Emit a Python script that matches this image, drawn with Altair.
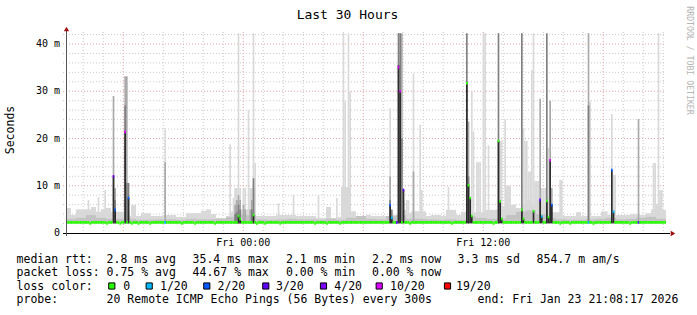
import altair as alt
import pandas as pd

# ---------------- data ----------------
TITLE = "Last 30 Hours"
START_CLOCK_H = 15 + 8 / 60 + 17 / 3600      # Thu 15:08:17
SPAN_H = 30
STEPS_PER_H = 12                              # 300 s steps
N_STEPS = 360
Y_MAX = 42.54                                 # ms at the top of the plot

# light smoke top, per 15-minute bin (ms)
noise_light = [5.3, 3.8, 5.0, 5.0, 5.0, 5.5, 4.5, 5.0, 5.3, 4.5,
               4.5, 4.5, 3.6, 5.9, 3.6, 4.2, 4.2, 3.6, 3.6, 3.6,
               3.8, 3.8, 3.4, 3.4, 4.2, 4.2, 4.2, 4.7, 5.0, 4.0,
               3.2, 3.2, 3.6, 4.5, 5.0, 5.0, 5.0, 4.5, 3.6, 3.6,
               3.6, 3.6, 3.8, 3.8, 3.8, 3.8, 3.6, 3.6, 3.6, 3.6,
               3.2, 3.2, 5.5, 3.2, 3.4, 9.7, 9.7, 4.6, 3.6, 3.6,
               3.8, 3.6, 3.6, 3.6, 3.6, 3.8, 3.8, 4.9, 4.2, 4.6,
               4.6, 4.6, 3.6, 3.8, 3.8, 3.6, 4.9, 4.9, 3.8, 4.5,
               4.4, 4.4, 4.4, 4.4, 4.9, 4.9, 5.0, 5.5, 10.0, 6.0,
               5.3, 6.0, 7.0, 6.0, 7.0, 6.0, 5.0, 4.4, 4.4, 3.6,
               3.6, 3.6, 4.4, 3.6, 3.6, 3.6, 3.6, 4.6, 3.8, 5.0,
               3.8, 3.8, 3.8, 4.0, 3.8, 3.8, 4.2, 5.0, 6.2, 4.9]
# denser smoke top, per 30-minute bin (ms)
noise_mid = [3.0, 3.2, 3.8, 3.2, 3.0, 3.0, 3.0, 2.8, 2.8, 2.9,
             2.9, 2.8, 3.0, 2.9, 2.9, 3.0, 3.4, 4.0, 3.8, 2.9,
             2.8, 2.9, 3.0, 2.9, 2.9, 2.8, 3.0, 2.8, 3.2, 3.6,
             3.0, 2.9, 3.6, 3.8, 3.0, 3.0, 2.9, 2.8, 2.9, 2.8,
             3.5, 3.2, 3.0, 3.0, 3.8, 4.5, 4.8, 4.0, 3.2, 2.9,
             2.8, 2.8, 2.9, 3.0, 3.2, 2.9, 3.0, 3.2, 3.4, 3.0]
SMOKE_BASE = 2.05

# smoke spikes, by 5-minute step (ms tops; 0 = none)
spike_step  = [13, 19, 23, 28, 29, 35, 36, 37, 59, 98, 100, 101, 102, 103, 104, 106, 107, 109, 110,
               111, 112, 113, 127, 136, 151, 162, 166, 167, 169, 170, 194, 195, 199, 200, 201, 202,
               204, 205, 208, 212, 213, 229, 240, 241, 242, 243, 244, 246, 247, 248, 250, 251, 253,
               259, 260, 261, 263, 273, 274, 275, 276, 277, 278, 279, 280, 281, 282, 283, 284, 285,
               286, 287, 288, 289, 290, 291, 296, 297, 307, 313, 314, 324, 327, 328, 329, 343, 352,
               353, 355, 356, 357]
spike_light = [7.0, 7.6, 9.1, 0, 0, 0, 0, 0, 22.2, 18.8, 7.4, 9.5, 9.5, 42.3, 9.5, 9.5, 9.5, 26, 9.5,
               9.5, 42.3, 14.8, 6.3, 8, 8, 7.4, 42.3, 27.9, 42.3, 30, 26.4, 0, 0, 0, 0, 0,
               7, 7, 33.8, 22.9, 9.1, 9.8, 0, 0, 0, 30, 21.5, 15, 15, 15, 42.3, 42.3, 18.6,
               0, 19.5, 19.5, 24, 0, 22.2, 19.5, 19.5, 13, 13, 34.5, 42.3, 11, 11, 11, 0, 9.5,
               9.5, 9.5, 0, 18, 0, 0, 11.2, 11.2, 4.4, 0, 27.9, 4.6, 25.2, 12.3, 12.3, 0, 14.8,
               14.8, 42.3, 9.1, 9.1]
spike_mid   = [0, 0, 0, 29, 9.5, 33.2, 33.2, 0, 15, 0, 0, 6, 7, 8, 7, 6, 5, 0, 5,
               7, 9.5, 0, 0, 0, 0, 0, 0, 0, 0, 0, 12, 0, 0, 0, 42.3, 7,
               0, 0, 13, 0, 0, 0, 0, 23.6, 0, 0, 0, 0, 0, 0, 0, 0, 0,
               0, 0, 0, 0, 0, 0, 0, 0, 0, 0, 0, 0, 0, 0, 0, 28.4, 0,
               0, 0, 0, 0, 28, 9.5, 0, 0, 0, 42.3, 0, 0, 0, 0, 0, 24.1, 0,
               0, 0, 0, 0]
spike_dark  = [0, 0, 0, 0, 7, 27, 10.6, 10.6, 0, 0, 0, 4, 4.5, 6, 5, 0, 0, 0, 0,
               5, 11.6, 0, 0, 0, 0, 0, 0, 0, 0, 0, 7, 5, 42.3, 42.3, 20, 0,
               0, 0, 0, 0, 0, 0, 42.3, 12, 0, 0, 0, 0, 0, 0, 0, 0, 0,
               42.3, 0, 0, 0, 42.3, 0, 0, 0, 0, 0, 0, 0, 0, 0, 0, 0, 0,
               0, 0, 42.3, 0, 0, 0, 0, 0, 0, 27, 0, 0, 0, 0, 0, 0, 0,
               0, 0, 0, 0]
spike_black = [0, 0, 0, 12, 5, 21.4, 0, 7.4, 0, 0, 0, 0, 0, 3.6, 3.2, 0, 0, 0, 0,
               0, 3.8, 0, 0, 0, 0, 0, 0, 0, 0, 0, 5.9, 3.2, 35.5, 30, 0, 9.1,
               0, 0, 0, 0, 0, 0, 31.7, 10.1, 7.4, 3.6, 0, 0, 0, 0, 0, 0, 0,
               19.5, 6.7, 3.0, 0, 4.9, 3.0, 0, 0, 0, 0, 0, 4.6, 0, 0, 0, 7.0, 3.5,
               0, 0, 6.8, 3.4, 15.4, 5.9, 0, 0, 0, 0, 0, 0, 13.3, 4.5, 0, 0, 0,
               0, 0, 0, 0]

# median rtt: usual level, small dips, and the steps where it differs
MEDIAN_BASE = 2.25
median_dip_value = 2.0
median_dip_steps = [14, 24, 32, 39, 43, 50, 69, 77, 89, 114, 119, 128, 149, 156, 164, 206,
                    231, 256, 296, 302, 316, 338]
median_step = [28, 29, 35, 37, 59, 103, 104, 112, 194, 195, 198, 199, 200, 202, 240, 241, 242,
               243, 259, 260, 261, 273, 274, 280, 284, 285, 288, 289, 290, 291, 313, 327, 328, 343]
median_val  = [12, 4.9, 21.4, 7.4, 2.25, 3.6, 3.0, 3.8, 5.9, 3.2, 2.25, 35.1, 30, 9.1, 31.7, 10.1, 7.4,
               3.6, 19.5, 6.7, 3.0, 4.9, 3.0, 4.6, 7.0, 3.5, 6.8, 3.4, 15.4, 5.9, 2.25, 13.3, 4.5, 2.25]
median_loss = [4, 2, 5, 2, 1, 0, 0, 0, 2, 1, 3, 5, 5, 3, 0, 0, 0,
               0, 0, 0, 0, 0, 0, 0, 3, 1, 0, 0, 5, 2, 1, 2, 1, 3]

loss_labels = ["0", "1/20", "2/20", "3/20", "4/20", "10/20", "19/20"]
loss_colors = ["#26ff00", "#00b8ff", "#0059ff", "#5e00ff", "#7e00ff", "#dd00ff", "#ff0000"]

y_ticks = [0, 10, 20, 30, 40]
y_tick_labels = ["0\u00a0\u00a0", "10\u00a0m", "20\u00a0m", "30\u00a0m", "40\u00a0m"]
y_minor = [2, 4, 6, 8, 12, 14, 16, 18, 22, 24, 26, 28, 32, 34, 36, 38, 42]

row_rtt = ["median rtt:", "2.8 ms avg", "35.4 ms max", "2.1 ms min", "2.2 ms now", "3.3 ms sd", "854.7 m am/s"]
row_loss = ["packet loss:", "0.75 % avg", "44.67 % max", "0.00 % min", "0.00 % now"]
row_probe = ["probe:", "20 Remote ICMP Echo Pings (56 Bytes) every 300s", "end: Fri Jan 23 21:08:17 2026"]
LOSS_HEAD = "loss color:"
Y_TITLE = "Seconds"
WATERMARK = "RRDTOOL / TOBI OETIKER"

# ---------------- layout / style ----------------
W, H = 600, 201
PAD = {"left": 66, "top": 32, "right": 31, "bottom": 82}
MONO = "DejaVu Sans Mono"
col_x = [-49.4, 40.6, 126.6, 220.0, 306.0, 391.6, 470.6]
probe_x = [-49.4, 40.6, 411.6]
box_x = [45.8, 83.2, 140.8, 199.8, 257.5, 313.2, 381.5]
box_label_x = [57.3, 94.0, 151.6, 210.0, 268.3, 324.0, 390.0]
row_y = [231.0, 244.3, 257.6, 271.0]

xs = alt.Scale(domain=[0, SPAN_H], nice=False, zero=False)
ys = alt.Scale(domain=[0, Y_MAX], nice=False, zero=False)

# ---------------- tables ----------------
def bins(values, width_h):
    return pd.DataFrame({"x": [i * width_h for i in range(len(values))],
                         "x2": [(i + 1) * width_h for i in range(len(values))],
                         "y": SMOKE_BASE, "y2": values})

def spikes(values):
    rows = [{"x": s / STEPS_PER_H, "x2": (s + 1) / STEPS_PER_H, "y": SMOKE_BASE, "y2": v}
            for s, v in zip(spike_step, values) if v > 0]
    return pd.DataFrame(rows)

def rects(df, color):
    return alt.Chart(df).mark_rect(color=color, strokeWidth=0).encode(
        x=alt.X("x:Q", scale=xs, axis=None), x2="x2:Q",
        y=alt.Y("y:Q", scale=ys, axis=None), y2="y2:Q")

med = {s: (MEDIAN_BASE, 0) for s in range(N_STEPS)}
for s in median_dip_steps:
    med[s] = (median_dip_value, 0)
for s, v, c in zip(median_step, median_val, median_loss):
    med[s] = (v, c)
med_df = pd.DataFrame([{"x": s / STEPS_PER_H, "x2": (s + 1) / STEPS_PER_H,
                        "y": v - 0.28, "y2": v + 0.28, "c": loss_colors[c]}
                       for s, (v, c) in med.items()])

hours = [h - START_CLOCK_H for h in range(16, 16 + SPAN_H) if h - START_CLOCK_H < SPAN_H]
clock = [h for h in range(16, 16 + SPAN_H) if h - START_CLOCK_H < SPAN_H]
vminor = pd.DataFrame({"x": [o for o, h in zip(hours, clock) if h % 6 != 0]})
vmajor = pd.DataFrame({"x": [o for o, h in zip(hours, clock) if h % 6 == 0]})
days = ["Thu", "Fri", "Sat"]
xlab = pd.DataFrame({"x": [o for o, h in zip(hours, clock) if h % 12 == 0],
                     "t": [f"{days[h // 24]} {h % 24:02d}:00" for h in clock if h % 12 == 0]})

hminor = pd.DataFrame({"y": y_minor})
hmajor = pd.DataFrame({"y": [t for t in y_ticks if t > 0]})
ylab = pd.DataFrame({"y": y_ticks, "t": y_tick_labels})

GRAY = "#c9c9c9"
RED = "#e3a3a3"
grid = [
    alt.Chart(vminor).mark_rule(color=GRAY, strokeDash=[1, 2], strokeWidth=1).encode(
        x=alt.X("x:Q", scale=xs, axis=None), y=alt.value(0), y2=alt.value(H + 2)),
    alt.Chart(hminor).mark_rule(color=GRAY, strokeDash=[1, 2], strokeWidth=1).encode(
        y=alt.Y("y:Q", scale=ys, axis=None), x=alt.value(-3), x2=alt.value(W)),
    alt.Chart(vmajor).mark_rule(color=RED, strokeDash=[1, 2], strokeWidth=1).encode(
        x=alt.X("x:Q", scale=xs, axis=None), y=alt.value(0), y2=alt.value(H + 3)),
    alt.Chart(hmajor).mark_rule(color=RED, strokeDash=[1, 2], strokeWidth=1).encode(
        y=alt.Y("y:Q", scale=ys, axis=None), x=alt.value(-3), x2=alt.value(W)),
]

smoke = [
    rects(bins(noise_light, 0.25), "#d9d9d9"),
    rects(spikes(spike_light), "#d9d9d9"),
    rects(bins(noise_mid, 0.5), "#c3c3c3"),
    rects(spikes(spike_mid), "#a9a9a9"),
    rects(spikes(spike_dark), "#7f7f7f"),
    rects(spikes(spike_black), "#2c2c2c"),
]

median = alt.Chart(med_df).mark_rect(strokeWidth=0).encode(
    x=alt.X("x:Q", scale=xs, axis=None), x2="x2:Q",
    y=alt.Y("y:Q", scale=ys, axis=None), y2="y2:Q",
    color=alt.Color("c:N", scale=None))

one = pd.DataFrame({"a": [0]})
axes = [
    alt.Chart(one).mark_rule(color="#000000", strokeWidth=1).encode(
        x=alt.value(-3), x2=alt.value(W + 4), y=alt.value(H + 0.5)),
    alt.Chart(one).mark_rule(color="#555555", strokeWidth=1).encode(
        x=alt.value(0.5), y=alt.value(H + 3), y2=alt.value(-2)),
    alt.Chart(one).mark_point(shape="triangle-up", filled=True, color="#a01010", size=28, opacity=1).encode(
        x=alt.value(0.5), y=alt.value(-3)),
    alt.Chart(one).mark_point(shape="triangle-right", filled=True, color="#a01010", size=28, opacity=1).encode(
        x=alt.value(W + 7), y=alt.value(H + 0.5)),
]

def text_row(xs_px, texts, y, size=11.5, align="left", color="#000000"):
    df = pd.DataFrame({"px": xs_px, "t": texts})
    return alt.Chart(df).mark_text(font=MONO, fontSize=size, align=align, baseline="alphabetic",
                                   fill=color).encode(
        x=alt.X("px:Q", scale=None), y=alt.value(y), text="t:N")

labels = [
    alt.Chart(ylab).mark_text(font=MONO, fontSize=10, align="right", baseline="middle",
                              fill="#000000").encode(
        y=alt.Y("y:Q", scale=ys, axis=None), x=alt.value(-6), text="t:N"),
    alt.Chart(xlab).mark_text(font=MONO, fontSize=10, align="center", baseline="alphabetic",
                              fill="#000000").encode(
        x=alt.X("x:Q", scale=xs, axis=None), y=alt.value(H + 12.5), text="t:N"),
    alt.Chart(pd.DataFrame({"t": [TITLE]})).mark_text(font=MONO, fontSize=13, align="center",
                                                      baseline="alphabetic", fill="#000000").encode(
        x=alt.value(281.5), y=alt.value(-13.5), text="t:N"),
    alt.Chart(pd.DataFrame({"t": [Y_TITLE]})).mark_text(font=MONO, fontSize=11.5, align="center",
                                                        baseline="middle", angle=270,
                                                        fill="#000000").encode(
        x=alt.value(-55), y=alt.value(98), text="t:N"),
    alt.Chart(pd.DataFrame({"t": [WATERMARK]})).mark_text(font=MONO, fontSize=8.2, align="center",
                                                          baseline="middle", angle=90,
                                                          fill="#b4b4b4").encode(
        x=alt.value(622.5), y=alt.value(28.5), text="t:N"),
    text_row(col_x, row_rtt, row_y[0]),
    text_row(col_x[:len(row_loss)], row_loss, row_y[1]),
    text_row([col_x[0]], [LOSS_HEAD], row_y[2]),
    text_row(box_label_x, loss_labels, row_y[2]),
    text_row(probe_x, row_probe, row_y[3]),
    alt.Chart(pd.DataFrame({"px": box_x, "c": loss_colors})).mark_square(
        size=38, stroke="#000000", strokeWidth=1, opacity=1, filled=True).encode(
        x=alt.X("px:Q", scale=None), y=alt.value(row_y[2] - 3.6), fill=alt.Fill("c:N", scale=None)),
]

chart = alt.layer(*grid, *smoke, median, *axes, *labels).properties(
    width=W, height=H,
    autosize=alt.AutoSizeParams(type="none"),
    padding=PAD,
    background="#ffffff",
).configure_view(stroke=None)

chart.save("out.html", embed_options={"renderer": "svg", "actions": False})
